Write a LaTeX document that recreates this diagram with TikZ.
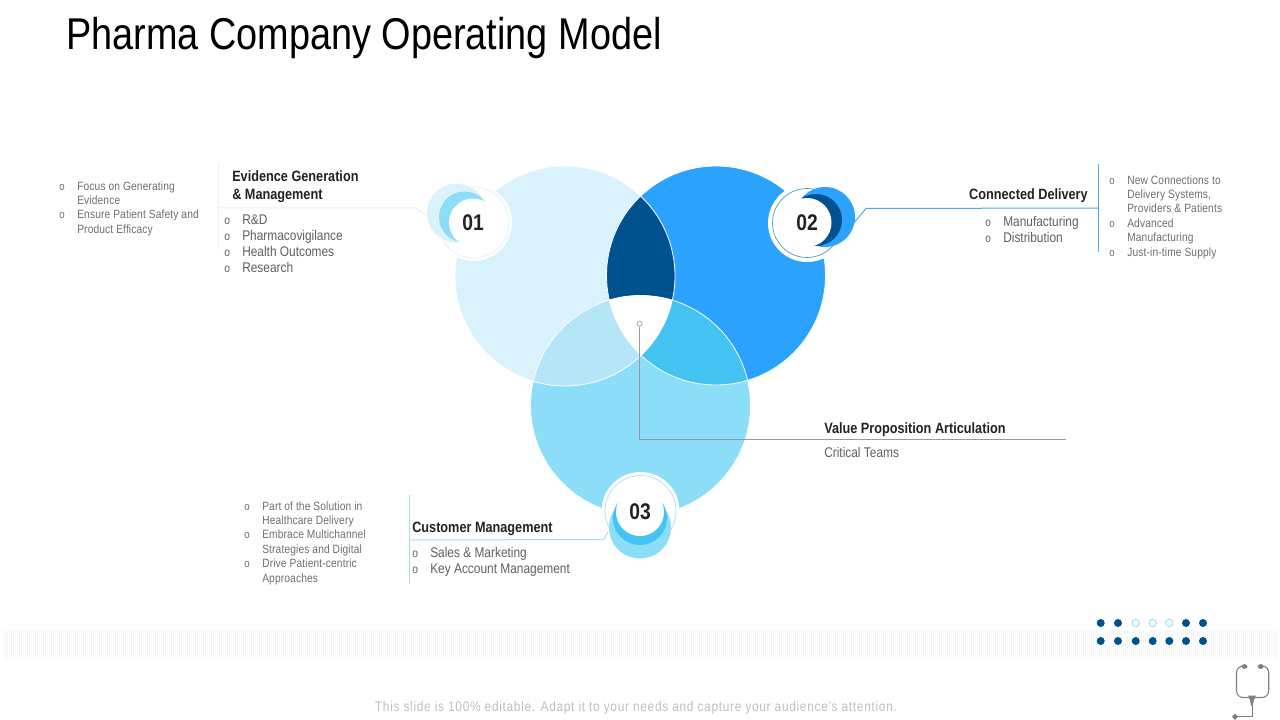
\documentclass[tikz,border=0pt]{standalone}
\usepackage{fontspec}
\setmainfont[FakeStretch=0.85]{Liberation Sans}
\definecolor{cA}{HTML}{D9F2FC}
\definecolor{cB}{HTML}{2CA2FF}
\definecolor{cC}{HTML}{8CDDF7}
\definecolor{cAB}{HTML}{00528F}
\definecolor{cAC}{HTML}{B5E6F7}
\definecolor{cBC}{HTML}{42C3F2}
\definecolor{ink}{HTML}{222222}
\definecolor{bodyink}{HTML}{5F5F5F}
\definecolor{smallink}{HTML}{6E6E6E}
\definecolor{greyline}{HTML}{9A9A9A}
\definecolor{steth}{HTML}{808080}
\definecolor{ringA}{HTML}{E3F5FC}
\definecolor{ringC}{HTML}{A6DFF2}
\definecolor{ringB}{HTML}{3E97D1}
\definecolor{lineB}{HTML}{4FA9DD}
\tikzset{
  x=0.75pt,y=-0.75pt,
  disc/.style={circle,inner sep=0pt,minimum size=#1*1.5pt},
  head/.style={anchor=base west,inner sep=0pt,text=ink,font=\fontsize{11.2pt}{13pt}\selectfont\bfseries},
  bodytext/.style={anchor=base west,inner sep=0pt,text=bodyink,font=\fontsize{10.5pt}{13pt}\selectfont},
  smalltext/.style={anchor=base west,inner sep=0pt,text=smallink,font=\fontsize{9pt}{11pt}\selectfont\addfontfeature{LetterSpace=1.2}},
  bodybul/.style={anchor=base west,inner sep=0pt,text=bodyink,font=\fontsize{9pt}{10pt}\selectfont},
  smallbul/.style={anchor=base west,inner sep=0pt,text=smallink,font=\fontsize{8.5pt}{10pt}\selectfont},
  number/.style={text=ink,font=\fontsize{17pt}{19pt}\selectfont\bfseries},
  dotfull/.style={disc=4,fill=cAB},
  dothollow/.style={disc=3.7,fill=white,draw=cC,line width=0.6pt},
}
% name, x bullet, x text, baseline y, text
\newcommand\smallitem[5]{\node[smallbul] (#1b) at (#2,#4) {o};\node[smalltext] (#1) at (#3,#4) {#5};}
\newcommand\bodyitem[5]{\node[bodybul] (#1b) at (#2,#4) {o};\node[bodytext] (#1) at (#3,#4) {#5};}
\begin{document}
\begin{tikzpicture}
\useasboundingbox (0,0) rectangle (1280,720);
\fill[white] (0,0) rectangle (1280,720);
% Venn
\coordinate (A) at (565,276);
\coordinate (B) at (716,275.5);
\coordinate (C) at (640.5,405.5);
\fill[cA] (A) circle [radius=110];
\fill[cC] (C) circle [radius=110];
\fill[cB] (B) circle [radius=109.5];
\begin{scope}
  \clip (A) circle [radius=110];
  \fill[cAB] (B) circle [radius=109.5];
  \fill[cAC] (C) circle [radius=110];
\end{scope}
\begin{scope}
  \clip (B) circle [radius=109.5];
  \fill[cBC] (C) circle [radius=110];
\end{scope}
\begin{scope}
  \clip (A) circle [radius=110];
  \clip (B) circle [radius=109.5];
  \fill[white] (C) circle [radius=110];
\end{scope}
\draw[white,line width=0.6pt] (A) circle [radius=110];
\draw[white,line width=0.6pt] (B) circle [radius=109.5];
\draw[white,line width=0.6pt] (C) circle [radius=110];
% rules and connectors
\coordinate (r1t) at (218,163); \coordinate (r1b) at (218,250);
\coordinate (c1a) at (218,208); \coordinate (c1b) at (416,208); \coordinate (c1c) at (430,218);
\draw[ringA,line width=0.75pt] (r1t) -- (r1b);
\draw[ringA,line width=0.75pt] (c1a) -- (c1b) -- (c1c);
\coordinate (r2t) at (1098,164); \coordinate (r2b) at (1098,252);
\coordinate (c2a) at (1098,208); \coordinate (c2b) at (866,208.5); \coordinate (c2c) at (852,225);
\draw[lineB,line width=0.75pt] (r2t) -- (r2b);
\draw[lineB,line width=0.75pt] (c2a) -- (c2b) -- (c2c);
\coordinate (r3t) at (409,495); \coordinate (r3b) at (409,584);
\coordinate (c3a) at (409,540); \coordinate (c3b) at (604,539.5); \coordinate (c3c) at (611,526);
\draw[ringC,line width=0.75pt] (r3t) -- (r3b);
\draw[ringC,line width=0.75pt] (c3a) -- (c3b) -- (c3c);
% centre callout
\node[disc=2.6,draw=greyline,fill=white,line width=0.5pt] (hub) at (639.6,323.7) {};
\coordinate (hubk) at (639.6,439); \coordinate (hube) at (1066,439);
\draw[greyline,line width=0.75pt] (hub) -- (hubk) -- (hube);
% badge 01
\node[disc=38.5,fill=white] (b1o) at (473.5,222.5) {};
\node[disc=35.5,draw=ringA,line width=0.6pt] (b1r) at (473.5,222.5) {};
\node[disc=29.5,fill=cA] (b1p) at (456.5,213) {};
\node[disc=25.5,fill=cC] (b1m) at (464.5,217) {};
\node[disc=24,fill=white,number] (b1) at (473,222.5) {01};
% badge 02
\node[disc=39,fill=white] (b2o) at (807,223) {};
\node[disc=34.5,draw=ringB,line width=0.5pt] (b2r) at (807,223) {};
\node[disc=30,fill=cB] (b2p) at (825,217) {};
\node[disc=26,fill=cAB] (b2m) at (816,220) {};
\node[disc=24.5,fill=white,number] (b2) at (807,222.5) {02};
% badge 03
\node[disc=39,fill=white] (b3o) at (640.5,511) {};
\node[disc=35.5,draw=ringC,line width=0.5pt] (b3r) at (640.5,511) {};
\node[disc=31,fill=cC] (b3p) at (640,527.5) {};
\node[disc=27,fill=cBC] (b3m) at (640,518) {};
\node[disc=24,fill=white,number] (b3) at (640,512) {03};
% title
\node[anchor=base west,inner sep=0pt,text=black,font=\fontsize{33.4pt}{36pt}\selectfont] (title) at (66,50) {Pharma Company Operating Model};
% evidence
\node[head] (h1a) at (232,181.5) {Evidence Generation};
\node[head] (h1b) at (232,199.5) {\&~Management};
\bodyitem{e1}{224}{242}{224}{R\&D}
\bodyitem{e2}{224}{242}{240}{Pharmacovigilance}
\bodyitem{e3}{224}{242}{256}{Health Outcomes}
\bodyitem{e4}{224}{242}{272.5}{Research}
\smallitem{l1}{59}{77}{190.5}{Focus on Generating}
\node[smalltext] (l1c) at (77,204.5) {Evidence};
\smallitem{l2}{59}{77}{218.5}{Ensure Patient Safety and}
\node[smalltext] (l2c) at (77,233.5) {Product Efficacy};
% connected
\node[head,anchor=base east] (h2) at (1088,199.5) {Connected Delivery};
\bodyitem{d1}{985}{1003}{226.5}{Manufacturing}
\bodyitem{d2}{985}{1003}{242.5}{Distribution}
\smallitem{r1}{1109}{1127}{184.5}{New Connections to}
\node[smalltext] (r1c) at (1127,198.5) {Delivery Systems,};
\node[smalltext] (r1d) at (1127,212.5) {Providers \& Patients};
\smallitem{r2}{1109}{1127}{227.5}{Advanced}
\node[smalltext] (r2c) at (1127,241.5) {Manufacturing};
\smallitem{r3}{1109}{1127}{256}{Just-in-time Supply}
% value
\node[head] (h4) at (824,433) {Value Proposition Articulation};
\node[bodytext] (v1) at (824,457) {Critical Teams};
% customer
\node[head] (h3) at (412,532) {Customer Management};
\bodyitem{k1}{412}{430}{557}{Sales \& Marketing}
\bodyitem{k2}{412}{430}{573}{Key Account Management}
\smallitem{m1}{244}{262}{510}{Part of the Solution in}
\node[smalltext] (m1c) at (262,524) {Healthcare Delivery};
\smallitem{m2}{244}{262}{538}{Embrace Multichannel}
\node[smalltext] (m2c) at (262,553) {Strategies and Digital};
\smallitem{m3}{244}{262}{567}{Drive Patient-centric}
\node[smalltext] (m3c) at (262,582) {Approaches};
% band
\fill[black!3] (3,630) rectangle (1277,660);
\foreach \i in {2,...,637} \draw[white,line width=0.5pt] (\i*2,630) -- (\i*2,660);
% dots
\foreach \n/\px in {1/1100.7,2/1118,6/1186,7/1203} \node[dotfull] (dt\n) at (\px,623) {};
\foreach \n/\px in {3/1135.7,4/1152.7,5/1169.3} \node[dothollow] (dt\n) at (\px,623) {};
\foreach \n/\px in {1/1100.7,2/1118,3/1135.7,4/1152.7,5/1169.3,6/1186,7/1203} \node[dotfull] (db\n) at (\px,641) {};
% stethoscope
\draw[steth,line width=0.8pt,rounded corners=5pt] (1244,666) -- (1236.5,666) -- (1236.5,697.5) -- (1268.7,697.5) -- (1268.7,666) -- (1261,666);
\fill[steth] (1244.5,666.5) ellipse [x radius=3,y radius=2.4];
\fill[steth] (1260.7,666.5) ellipse [x radius=3,y radius=2.4];
\fill[steth] (1248,695.5) -- (1256,695.5) -- (1254,700) -- (1252.5,705.5) -- (1251,705.5) -- (1250,700) -- cycle;
\draw[steth,line width=0.8pt] (1252.5,704) -- (1252.5,716.7) -- (1236,716.7);
\fill[steth] (1235,713.5) -- (1238,716.7) -- (1235,720) -- (1232,716.7) -- cycle;
% footer
\node[anchor=base,inner sep=0pt,text=black!25,font=\fontsize{10.5pt}{12pt}\selectfont\addfontfeature{LetterSpace=5}] (foot) at (636,711) {This slide is 100\% editable. Adapt it to your needs and capture your audience's attention.};
\end{tikzpicture}
\end{document}
